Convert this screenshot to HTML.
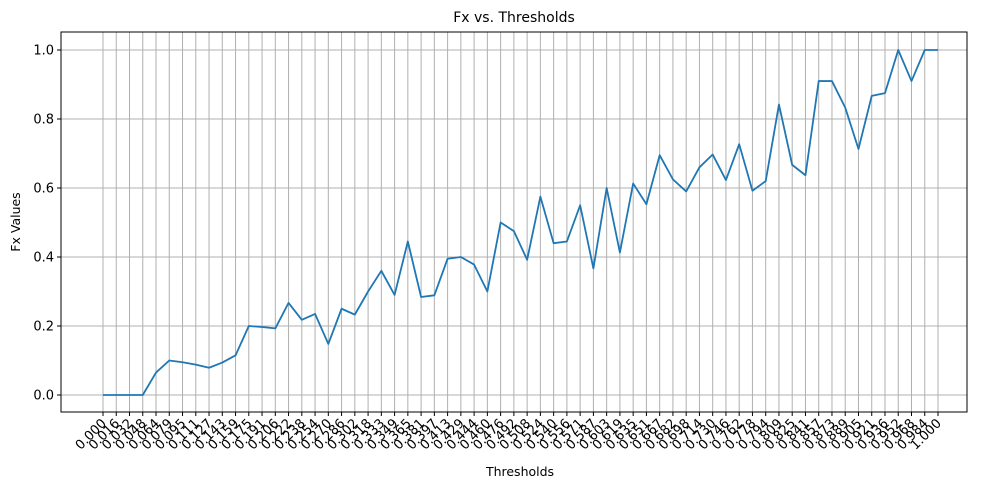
<!DOCTYPE html>
<html><head><meta charset="utf-8"><style>
body{margin:0;background:#fff;font-family:"Liberation Sans","DejaVu Sans",sans-serif;}
svg text{font-family:"DejaVu Sans","Liberation Sans",sans-serif;}
</style></head><body>
<svg id="chart" width="989" height="490" xmlns="http://www.w3.org/2000/svg"></svg>
<script>
const thresholdLabels = ["0.000","0.016","0.032","0.048","0.064","0.079","0.095","0.111","0.127","0.143","0.159","0.175","0.191","0.206","0.222","0.238","0.254","0.270","0.286","0.302","0.318","0.333","0.349","0.365","0.381","0.397","0.413","0.429","0.444","0.460","0.476","0.492","0.508","0.524","0.540","0.556","0.571","0.587","0.603","0.619","0.635","0.651","0.667","0.682","0.698","0.714","0.730","0.746","0.762","0.778","0.794","0.809","0.825","0.841","0.857","0.873","0.889","0.905","0.921","0.936","0.952","0.968","0.984","1.000"];
const fxValues = [0,0,0,0,0.065,0.10,0.095,0.088,0.079,0.094,0.115,0.20,0.197,0.193,0.267,0.218,0.235,0.148,0.25,0.233,0.30,0.36,0.29,0.445,0.284,0.289,0.395,0.40,0.378,0.30,0.50,0.475,0.392,0.575,0.44,0.445,0.55,0.367,0.60,0.413,0.613,0.553,0.695,0.625,0.59,0.66,0.697,0.623,0.727,0.592,0.62,0.842,0.667,0.637,0.91,0.91,0.833,0.713,0.867,0.875,1.0,0.91,1.0,1.0];
const yTicks = [0,0.2,0.4,0.6,0.8,1.0];

const svg = document.getElementById('chart');
const NS = 'http://www.w3.org/2000/svg';
const L=61,R=967,T=32,B=412;
const x = i => 103 + i*(835/63);
const y = v => 395 - v*345;
function mk(tag, attrs, parent){const e=document.createElementNS(NS,tag);for(const k in attrs)e.setAttribute(k,attrs[k]);(parent||svg).appendChild(e);return e;}

const grid = mk('g',{});


thresholdLabels.forEach((lab,i)=>{
  mk('line',{x1:x(i),x2:x(i),y1:T,y2:B,stroke:'#b0b0b0','stroke-width':1},grid);
  mk('line',{x1:x(i),x2:x(i),y1:B,y2:B+4,stroke:'#000','stroke-width':1},grid);
  const t = mk('text',{x:x(i)+4,y:B+12,'font-size':13,'text-anchor':'end',transform:`rotate(-45 ${x(i)+4} ${B+12})`});
  
  
  t.textContent=lab;
});
yTicks.forEach(v=>{
  mk('line',{x1:L,x2:R,y1:y(v),y2:y(v),stroke:'#b0b0b0','stroke-width':1},grid);
  mk('line',{x1:L-4,x2:L,y1:y(v),y2:y(v),stroke:'#000','stroke-width':1},grid);
  const t = mk('text',{x:L-7,y:y(v)+4.5,'font-size':13,'text-anchor':'end'});
  
  
  t.textContent=v.toFixed(1);
});
const line = mk('polyline',{points:fxValues.map((v,i)=>x(i)+','+y(v)).join(' '),fill:'none',stroke:'#1f77b4','stroke-width':1.8,'stroke-linejoin':'round'});


const frame = mk('rect',{x:L,y:T,width:R-L,height:B-T,fill:'none',stroke:'#000','stroke-width':1});


const title = mk('text',{x:514,y:22,'font-size':14,'text-anchor':'middle'});


title.textContent='Fx vs. Thresholds';
const xt = mk('text',{x:520,y:476,'font-size':12.5,'text-anchor':'middle'});


xt.textContent='Thresholds';
const yt = mk('text',{x:20,y:222,'font-size':12.5,'text-anchor':'middle',transform:'rotate(-90 20 222)'});


yt.textContent='Fx Values';
</script>
</body></html>
